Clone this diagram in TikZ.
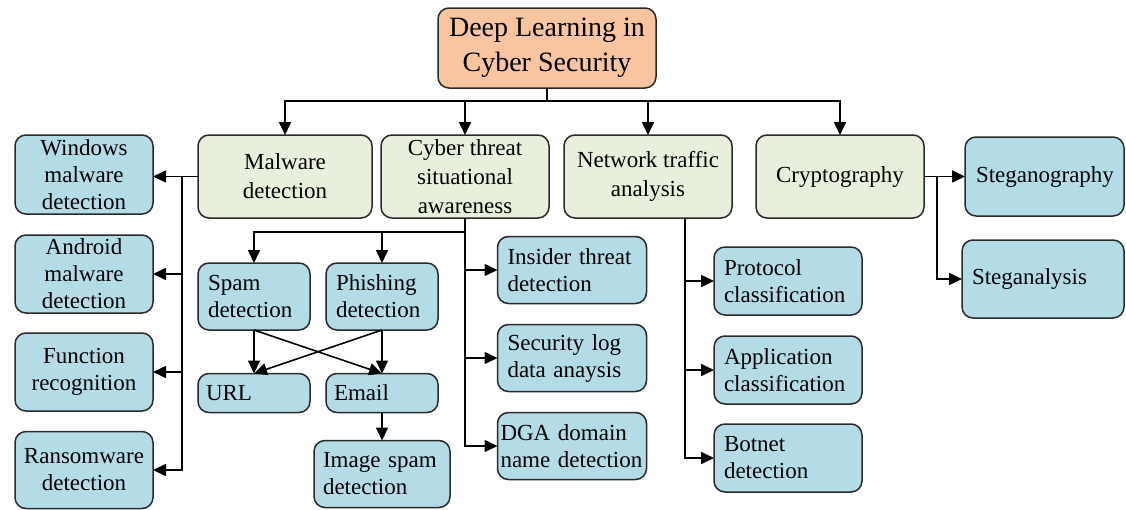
\documentclass[tikz,border=0pt]{standalone}
\usepackage{fontspec}
\setmainfont{Liberation Serif}
\usetikzlibrary{arrows.meta,calc}

\definecolor{rootc}{HTML}{F8C5A0}
\definecolor{topicc}{HTML}{E9EFDD}
\definecolor{leafc}{HTML}{B4DCE7}
\definecolor{edgec}{HTML}{2A2A2A}

\tikzset{
  box/.style={draw=edgec, line width=1.5pt, rounded corners=11pt, inner sep=0pt, outer sep=0pt,
              font=\fontsize{23}{27}\selectfont, align=center},
  sz/.style 2 args={minimum width=#1pt, minimum height=#2pt},
  lsz/.code n args={3}{\pgfmathsetmacro\boxtw{#1-2*#3}%
     \edef\boxtmp{\noexpand\tikzset{minimum width=#1pt, minimum height=#2pt, text width=\boxtw pt}}\boxtmp},
  rootbox/.style={box, fill=rootc, font=\fontsize{28}{35}\selectfont},
  topic/.style={box, fill=topicc, font=\fontsize{23}{29}\selectfont},
  leaf/.style={box, fill=leafc},
  lleaf/.style={leaf, align=left},
  link/.style={line width=1.6pt, draw=black},
  arr/.style={link, -{Triangle[length=13pt,width=12pt]}},
}

\begin{document}
\begin{tikzpicture}[x=1pt, y=-1pt]
\useasboundingbox (0,0) rectangle (1126,509);

% root and main branches
\node[rootbox, sz={218}{80}] (root) at (547,48) {Deep Learning in\\Cyber Security};
\node[topic, sz={174}{83}] (mal) at (285,176.5) {Malware\\detection};
\node[topic, sz={168}{83}] (cta) at (465,176.5) {Cyber threat\\situational\\awareness};
\node[topic, sz={168}{83}] (nta) at (648,176.5) {Network traffic\\analysis};
\node[topic, sz={168}{83}] (cry) at (840,176.5) {Cryptography};

% malware detection
\node[leaf, sz={138}{79}] (win) at (84,174.5) {Windows\\malware\\detection};
\node[leaf, sz={138}{78}] (and) at (84,274) {Android\\malware\\detection};
\node[leaf, sz={138}{78}] (fun) at (84,372) {Function\\recognition};
\node[leaf, sz={138}{77}] (ran) at (84,470) {Ransomware\\detection};

% cyber threat situational awareness
\node[lleaf, lsz={112}{67}{10}] (spam) at (254,296.5) {Spam\\detection};
\node[lleaf, lsz={112}{67}{10}] (phish) at (382,296.5) {Phishing\\detection};
\node[lleaf, lsz={112}{39}{8}] (url) at (254,393) {URL};
\node[lleaf, lsz={112}{39}{8}] (email) at (382,393) {Email};
\node[lleaf, lsz={136}{67}{9}] (img) at (382,474) {Image spam\\detection};
\node[lleaf, lsz={149}{67}{10}] (ins) at (572,270) {Insider threat\\detection};
\node[lleaf, lsz={149}{67}{10}] (sec) at (572,358) {Security log\\data anaysis};
\node[lleaf, lsz={149}{67}{3}] (dga) at (572,446) {DGA domain\\name detection};

% network traffic analysis
\node[lleaf, lsz={148}{68}{10}] (pro) at (788,281) {Protocol\\classification};
\node[lleaf, lsz={148}{68}{10}] (app) at (788,370) {Application\\classification};
\node[lleaf, lsz={148}{68}{10}] (bot) at (788,458) {Botnet\\detection};

% cryptography
\node[lleaf, lsz={159}{79}{11}] (steg) at (1044.5,176.5) {Steganography};
\node[lleaf, lsz={162}{78}{10}] (stega) at (1043,279) {Steganalysis};

% root to main branches
\coordinate (bus) at ([yshift=-13pt]root.south);
\draw[link] (root.south) -- (bus);
\draw[arr] (bus) -| (mal.north);
\draw[arr] (bus) -| (cta.north);
\draw[arr] (bus) -| (nta.north);
\draw[arr] (bus) -| (cry.north);

% malware detection trunk
\coordinate (mt) at ([xshift=-16pt]mal.west);
\draw[arr] (mal.west) -- (mal.west -| win.east);
\draw[arr] (mt) |- (ran.east);
\draw[arr] (mt |- and.east) -- (and.east);
\draw[arr] (mt |- fun.east) -- (fun.east);

% cyber threat trunk
\coordinate (ct) at ([yshift=-14pt]cta.south);
\draw[link] (cta.south) -- (ct);
\draw[arr] (ct) -| (spam.north);
\draw[arr] (ct -| phish.north) -- (phish.north);
\draw[arr] (ct) |- (dga.west);
\draw[arr] (ct |- ins.west) -- (ins.west);
\draw[arr] (ct |- sec.west) -- (sec.west);
\draw[arr] (spam.south) -- (url.north);
\draw[arr] (spam.south) -- (email.north);
\draw[arr] (phish.south) -- (url.north);
\draw[arr] (phish.south) -- (email.north);
\draw[arr] (email.south) -- (img.north);

% network traffic trunk
\coordinate (nt) at ([xshift=37pt]nta.south);
\draw[arr] (nt) |- (bot.west);
\draw[arr] (nt |- pro.west) -- (pro.west);
\draw[arr] (nt |- app.west) -- (app.west);

% cryptography trunk
\coordinate (ck) at ([xshift=13pt]cry.east);
\draw[arr] (cry.east) -- (steg.west);
\draw[arr] (ck) |- (stega.west);
\end{tikzpicture}
\end{document}
